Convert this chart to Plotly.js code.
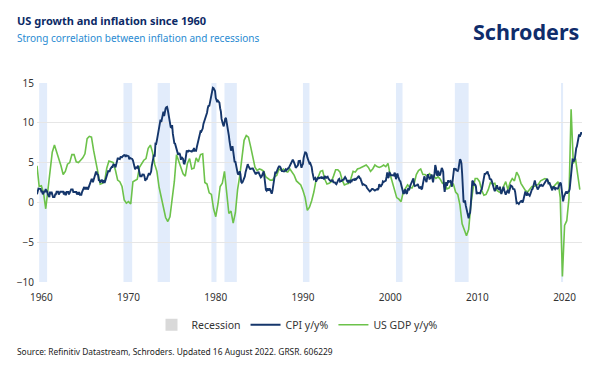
<!DOCTYPE html>
<html><head><meta charset="utf-8">
<script src="https://cdn.plot.ly/plotly-3.0.1.min.js"></script>
<style>html,body{margin:0;padding:0;background:#fff}#chart{width:600px;height:383px}</style>
</head><body><div id="chart"></div>
<script>
// US CPI y/y %, monthly from Jan 1960 to Jul 2022
const cpiStartYear = 1960;
const cpiYoY = [
1.03,1.73,1.73,1.72,1.72,1.71,1.36,1.36,1.02,1.36,1.36,1.36,
1.69,1.36,1.36,1.01,0.67,0.67,1.34,1.01,1.34,0.67,0.67,0.67,
0.67,1.01,1.01,1.34,1.34,1.34,1.00,1.34,1.33,1.33,1.33,1.33,
1.33,1.00,1.33,0.99,0.99,1.32,1.32,1.32,1.00,1.32,1.32,1.64,
1.64,1.64,1.31,1.31,1.31,1.31,1.30,1.00,1.30,0.97,1.30,0.97,
0.97,0.97,1.29,1.62,1.62,1.94,1.62,1.94,1.61,1.93,1.61,1.92,
1.92,2.56,2.56,2.87,2.87,2.53,2.85,3.48,3.48,3.79,3.79,3.49,
3.46,2.81,2.80,2.49,2.79,2.79,2.78,2.45,2.77,2.45,2.74,3.04,
3.65,3.95,3.94,3.93,3.92,4.20,4.49,4.48,4.46,4.75,4.73,4.72,
4.40,4.70,5.25,5.52,5.51,5.48,5.44,5.71,5.70,5.68,5.80,5.95,
5.95,5.92,5.72,5.90,5.88,5.85,5.80,5.41,5.60,5.55,5.50,5.45,
5.29,5.00,4.71,4.16,4.40,4.38,4.35,4.62,4.08,3.81,3.28,3.27,
3.27,3.51,3.50,3.49,3.23,2.71,2.95,2.94,3.19,3.42,3.67,3.41,
3.65,3.87,4.59,5.06,5.53,6.00,5.73,7.38,7.36,7.80,8.25,8.71,
9.39,10.02,10.39,10.09,10.71,10.86,11.40,10.86,11.70,11.80,11.95,12.00,
11.60,11.10,10.25,10.21,9.47,9.39,9.72,8.60,7.91,7.44,7.38,6.94,
6.72,6.29,6.07,6.05,6.20,5.97,5.35,5.71,5.50,5.46,4.88,4.86,
5.22,5.91,6.44,6.45,6.40,6.50,6.45,6.42,6.40,6.39,6.52,6.50,
6.84,6.43,6.55,6.50,6.96,7.41,7.70,7.86,8.31,8.93,8.89,9.03,
9.28,9.86,10.09,10.49,10.85,10.89,11.26,11.82,12.18,12.07,12.61,13.29,
13.70,14.00,14.40,14.35,14.10,14.00,13.13,12.87,12.60,12.77,12.65,12.52,
11.83,11.41,10.49,10.00,9.78,9.55,10.40,10.50,10.60,10.14,9.59,8.92,
8.39,7.62,6.78,6.51,6.68,7.06,6.44,5.85,5.04,5.14,4.59,3.83,
3.71,3.49,3.60,3.90,3.55,2.58,2.46,2.56,2.86,2.85,3.27,3.79,
4.19,4.60,4.80,4.56,4.23,4.22,4.20,4.29,4.27,4.26,4.05,3.95,
3.53,3.52,3.70,3.69,3.77,3.76,3.55,3.35,3.14,3.23,3.51,3.80,
3.89,3.11,2.26,1.59,1.49,1.77,1.58,1.57,1.75,1.47,1.28,1.10,
1.46,2.10,3.03,3.78,3.86,3.65,3.93,4.28,4.36,4.53,4.53,4.43,
4.05,3.94,3.93,3.90,3.89,3.96,4.13,4.02,4.17,4.25,4.25,4.42,
4.67,4.83,4.98,5.11,5.36,5.17,4.98,4.71,4.34,4.49,4.66,4.65,
5.20,5.26,5.23,4.71,4.36,4.67,4.82,5.62,6.16,6.29,6.27,6.11,
5.65,5.31,4.90,4.89,4.95,4.70,4.45,3.80,3.39,2.92,2.99,3.06,
2.60,2.82,3.19,3.18,3.02,3.09,3.16,3.15,2.99,3.20,3.05,2.90,
3.26,3.25,3.09,3.23,3.22,3.00,2.78,2.77,2.69,2.75,2.68,2.75,
2.52,2.52,2.51,2.36,2.29,2.49,2.77,2.90,2.96,2.61,2.67,2.67,
2.80,2.86,2.85,3.05,3.19,3.04,2.76,2.62,2.54,2.81,2.61,2.54,
2.73,2.65,2.84,2.90,2.89,2.75,2.95,2.88,3.00,2.99,3.26,3.32,
3.04,3.03,2.76,2.50,2.23,2.30,2.23,2.23,2.15,2.08,1.83,1.70,
1.57,1.44,1.37,1.44,1.69,1.68,1.68,1.62,1.49,1.49,1.55,1.61,
1.67,1.61,1.73,2.28,2.09,1.96,2.14,2.26,2.63,2.56,2.62,2.68,
2.74,3.22,3.76,3.07,3.19,3.73,3.66,3.41,3.45,3.45,3.45,3.39,
3.73,3.53,2.92,3.27,3.62,3.25,2.72,2.72,2.65,2.13,1.90,1.55,
1.14,1.14,1.48,1.64,1.18,1.07,1.46,1.80,1.51,2.03,2.20,2.38,
2.60,2.98,3.02,2.22,2.06,2.11,2.11,2.16,2.32,2.04,1.77,1.88,
1.93,1.69,1.74,2.29,3.05,3.27,2.99,2.65,2.54,3.19,3.52,3.26,
2.97,3.01,3.15,3.51,2.80,2.53,3.17,3.64,4.69,4.35,3.46,3.42,
3.99,3.60,3.36,3.55,4.17,4.32,4.15,3.82,2.06,1.31,1.97,2.54,
2.08,2.42,2.78,2.57,2.69,2.69,2.36,1.97,2.76,3.54,4.31,4.08,
4.28,4.03,3.98,3.94,4.18,5.02,5.40,5.30,4.94,3.66,1.07,0.09,
0.03,0.24,-0.38,-0.74,-1.28,-1.43,-2.00,-1.48,-1.29,-0.18,1.84,2.72,
2.63,2.14,2.31,2.24,2.02,1.05,1.24,1.15,1.14,1.17,1.14,1.50,
1.63,2.11,2.68,3.16,3.57,3.56,3.63,3.77,3.87,3.53,3.39,2.96,
2.93,2.87,2.65,2.30,1.70,1.66,1.41,1.69,1.99,2.16,1.76,1.74,
1.59,1.98,1.47,1.06,1.36,1.75,1.96,1.52,1.18,0.96,1.24,1.50,
1.58,1.13,1.51,1.95,2.13,2.07,1.99,1.70,1.66,1.66,1.32,0.76,
-0.09,-0.03,-0.07,-0.20,-0.04,0.12,0.17,0.20,-0.04,0.17,0.50,0.73,
1.37,1.02,0.85,1.13,1.02,1.01,0.84,1.06,1.46,1.64,1.69,2.07,
2.50,2.74,2.38,2.20,1.87,1.63,1.73,1.94,2.23,2.04,2.20,2.11,
2.07,2.21,2.36,2.46,2.80,2.87,2.95,2.70,2.28,2.52,2.18,1.91,
1.55,1.52,1.86,2.00,1.79,1.65,1.81,1.75,1.71,1.76,2.05,2.29,
2.49,2.33,1.54,0.33,0.12,0.65,0.99,1.31,1.37,1.18,1.17,1.36,
1.40,1.68,2.62,4.16,4.99,5.39,5.37,5.25,5.39,6.22,6.81,7.04,
7.48,7.87,8.54,8.26,8.58,8.80,8.52
];

// US real GDP y/y %, quarterly from 1960 Q1 to 2022 Q2
const gdpStartYear = 1960;
const gdpYoY = [
4.6,2.0,2.1,1.2, -0.8,1.6,3.8,6.3, 7.2,6.3,5.7,4.6, 3.5,3.9,4.8,5.0,
6.0,6.0,5.1,5.0, 5.3,5.6,6.1,8.0, 8.3,8.2,6.5,5.0, 3.5,2.3,2.4,2.6,
4.3,5.2,5.1,5.0, 4.0,2.8,2.6,2.0, 0.3,-0.1,0.1,-0.2, 2.6,2.8,2.9,4.4,
4.8,5.3,5.5,6.8, 7.2,6.3,4.8,3.9, 1.9,0.5,-0.6,-1.9, -2.4,-1.8,0.4,2.6,
6.0,5.2,4.5,3.6, 3.3,4.9,5.5,4.2, 4.3,5.6,5.1,6.0, 6.1,2.5,2.3,1.2,
1.0,-0.8,-1.8,-0.2, 2.0,2.4,3.9,1.3, -1.4,-1.1,-2.6,-1.3, 1.6,3.3,5.5,7.8,
8.4,8.2,7.0,5.5, 4.4,4.0,4.2,4.1, 3.9,3.2,3.0,2.8, 2.8,3.2,3.4,4.2,
4.0,4.2,3.9,3.8, 4.2,3.8,3.4,2.7, 2.5,2.2,1.5,0.6, -1.0,-0.6,0.2,1.3,
2.8,3.2,3.9,4.0, 2.9,2.3,2.4,2.6, 3.3,4.1,4.1,3.8, 2.8,2.2,2.3,2.4,
3.0,3.9,3.8,4.2, 4.3,4.4,4.6,4.7, 4.4,3.9,4.2,4.7, 4.5,4.4,4.5,4.7,
4.5,4.9,3.5,2.6, 1.6,0.6,0.4,0.1, 1.3,1.8,2.2,1.9, 1.8,2.3,3.5,4.0,
4.2,3.5,3.5,3.3, 3.6,3.3,3.3,3.0, 3.2,2.9,2.4,2.5, 1.7,1.8,2.3,2.3,
1.3,1.0,-0.3,-2.7, -3.6,-4.2,-3.4,-0.3, 1.7,3.0,3.0,2.6, 1.5,0.9,1.0,1.6,
2.5,2.3,2.4,1.5, 1.3,1.2,2.0,2.6, 1.6,2.5,3.0,2.7, 3.8,3.3,2.4,1.9,
1.5,1.3,1.6,2.0, 2.0,2.2,2.3,2.7, 2.9,3.0,2.9,2.3, 1.9,2.0,2.3,2.6,
0.6,-9.3,-2.9,-2.3, 0.5,11.7,4.9,5.5, 3.5,1.6
];

// NBER recessions
const recessionStart = ['1960-04-01','1969-12-01','1973-11-01','1980-01-01','1981-07-01','1990-07-01','2001-03-01','2007-12-01','2020-02-01'];
const recessionEnd   = ['1961-02-28','1970-11-30','1975-03-31','1980-07-31','1982-11-30','1991-03-31','2001-11-30','2009-06-30','2020-04-30'];

const tickYears = ['1960','1970','1980','1990','2000','2010','2020'];
const yTicks = [-10,-5,0,5,10,15];

function monthDates(y0, n, step) {
  const out = [];
  for (let i = 0; i < n; i++) {
    const m0 = i * step;
    const y = y0 + Math.floor(m0 / 12), m = (m0 % 12) + 1;
    out.push(y + '-' + String(m).padStart(2, '0') + '-01');
  }
  return out;
}

const font = 'Noto Sans, Open Sans, sans-serif';
const cpiX = monthDates(cpiStartYear, cpiYoY.length, 1);
const gdpX = monthDates(gdpStartYear, gdpYoY.length, 3);

const traces = [
  {type:'bar', x:[null], y:[null], name:'Recession', marker:{color:'#d9d9d9'}, hoverinfo:'skip', legendrank:1},
  {type:'scatter', mode:'lines', x:gdpX, y:gdpYoY, name:'US GDP y/y%', line:{color:'#6cc24a', width:1.6}, legendrank:3},
  {type:'scatter', mode:'lines', x:cpiX, y:cpiYoY, name:'CPI y/y%', line:{color:'#15366b', width:1.9}, legendrank:2}
];

const shapes = recessionStart.map((s, i) => ({
  type:'rect', xref:'x', yref:'paper', x0:s, x1:recessionEnd[i], y0:0, y1:1,
  fillcolor:'#e2ecfb', line:{width:0}, layer:'below'
}));

const layout = {
  width:600, height:383,
  margin:{l:37, r:18, t:83, b:101},
  paper_bgcolor:'#fff', plot_bgcolor:'#fff',
  font:{family:font, size:10, color:'#333'},
  showlegend:true,
  legend:{orientation:'h', x:0.478, xanchor:'center', y:-0.215, yanchor:'middle',
          font:{family:font, size:10.5, color:'#333'}, itemwidth:30, traceorder:'normal'},
  xaxis:{type:'date', range:['1960-01-01','2022-07-01'],
         tickvals:tickYears.map(y => y + '-07-01'), ticktext:tickYears,
         showgrid:false, zeroline:false, showline:false, ticks:'', ticklabelstandoff:8,
         tickfont:{family:font, size:10, color:'#333'}},
  yaxis:{range:[-10,15], tickvals:yTicks, showgrid:true, gridcolor:'#e6e6e6', gridwidth:1,
         zeroline:false, showline:false, ticks:'', ticklabelstandoff:2,
         tickfont:{family:font, size:10, color:'#333'}},
  shapes:shapes,
  annotations:[
    {text:'<b>US growth and inflation since 1960</b>', xref:'paper', yref:'paper',
     x:-0.0404, y:(282-20)/199, xanchor:'left', yanchor:'middle', showarrow:false,
     font:{family:font, size:11, color:'#0c2a66'}},
    {text:'Strong correlation between inflation and recessions', xref:'paper', yref:'paper',
     x:-0.0404, y:(282-38)/199, xanchor:'left', yanchor:'middle', showarrow:false,
     font:{family:font, size:10, color:'#2a8bd2'}},
    {text:'<b>Schroders</b>', xref:'paper', yref:'paper',
     x:(581-37)/545, y:(282-32)/199, xanchor:'right', yanchor:'middle', showarrow:false,
     font:{family:font, size:21.5, color:'#0f2c6b'}},
    {text:'Source: Refinitiv Datastream, Schroders. Updated 16 August 2022. GRSR. 606229', xref:'paper', yref:'paper',
     x:-0.0404, y:(282-351.7)/199, xanchor:'left', yanchor:'middle', showarrow:false,
     font:{family:font, size:8.4, color:'#222'}}
  ],
  bargap:0
};

Plotly.newPlot('chart', traces, layout, {displayModeBar:false, staticPlot:true});
</script>
</body></html>
